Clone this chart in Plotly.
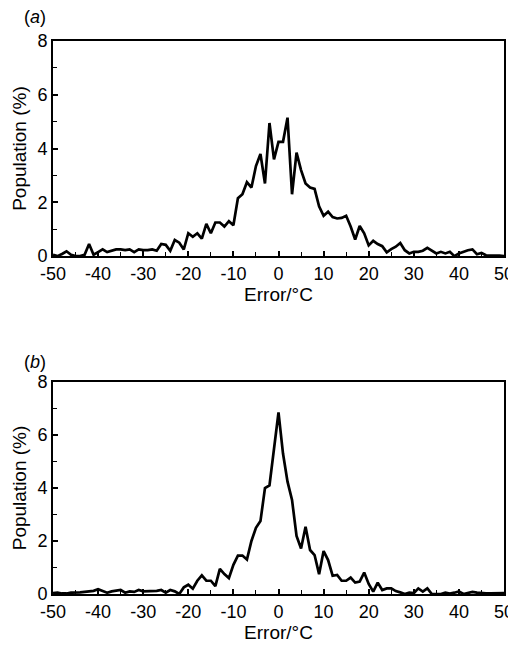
import plotly.graph_objects as go

# Error values (°C), 1-degree bins
error_deg = list(range(-50, 51))

# Panel (a) population (%)
pop_a = [
    0.05, 0.0, 0.08, 0.18, 0.05, 0.0, 0.0, 0.05, 0.45, 0.05,   # -50..-41
    0.15, 0.25, 0.15, 0.2, 0.25, 0.25, 0.22, 0.25, 0.15, 0.25,  # -40..-31
    0.22, 0.22, 0.25, 0.2, 0.45, 0.42, 0.2, 0.6, 0.5, 0.25,     # -30..-21
    0.85, 0.72, 0.85, 0.65, 1.2, 0.85, 1.25, 1.25, 1.1, 1.3,    # -20..-11
    1.15, 2.15, 2.3, 2.75, 2.55, 3.35, 3.8, 2.7, 4.95, 3.6,     # -10..-1
    4.25,                                                        # 0
    4.25, 5.15, 2.3, 3.85, 3.2, 2.7, 2.55, 2.5, 1.85, 1.5,      # 1..10
    1.65, 1.45, 1.4, 1.42, 1.5, 1.1, 0.62, 1.12, 0.85, 0.4,     # 11..20
    0.57, 0.45, 0.37, 0.14, 0.26, 0.35, 0.49, 0.22, 0.1, 0.16,  # 21..30
    0.16, 0.2, 0.31, 0.2, 0.1, 0.16, 0.1, 0.16, 0.0, 0.1,       # 31..40
    0.16, 0.22, 0.25, 0.07, 0.12, 0.03, 0.02, 0.03, 0.02, 0.0,  # 41..50
]

# Panel (b) population (%)
pop_b = [
    0.03, 0.05, 0.02, 0.02, 0.05, 0.05, 0.06, 0.08, 0.1, 0.12,  # -50..-41
    0.18, 0.12, 0.05, 0.1, 0.12, 0.15, 0.05, 0.1, 0.08, 0.15,   # -40..-31
    0.1, 0.1, 0.1, 0.12, 0.15, 0.05, 0.15, 0.1, 0.0, 0.25,      # -30..-21
    0.35, 0.2, 0.5, 0.7, 0.5, 0.5, 0.3, 0.95, 0.75, 0.6,        # -20..-11
    1.1, 1.45, 1.45, 1.3, 2.0, 2.5, 2.75, 4.0, 4.1, 5.5,        # -10..-1
    6.85,                                                        # 0
    5.3, 4.24, 3.55, 2.19, 1.72, 2.54, 1.66, 1.47, 0.75, 1.62,  # 1..10
    1.28, 0.69, 0.72, 0.5, 0.5, 0.62, 0.43, 0.47, 0.81, 0.38,   # 11..20
    0.09, 0.43, 0.15, 0.21, 0.21, 0.11, 0.06, 0.0, 0.05, 0.03,  # 21..30
    0.21, 0.09, 0.21, 0.0, 0.0, 0.0, 0.05, 0.02, 0.05, 0.1,     # 31..40
    0.0, 0.05, 0.08, 0.05, 0.03, 0.02, 0.02, 0.02, 0.02, 0.03,  # 41..50
]

x_ticks = [-50, -40, -30, -20, -10, 0, 10, 20, 30, 40, 50]
y_ticks = [0, 2, 4, 6, 8]
panel_labels = ["(<i>a</i>)", "(<i>b</i>)"]
x_title = "Error/°C"
y_title = "Population (%)"

FONT = "Liberation Sans, Arial, Helvetica, sans-serif"

fig = go.Figure()
fig.add_trace(go.Scatter(x=error_deg, y=pop_a, mode="lines",
                         line=dict(color="black", width=2.7),
                         xaxis="x", yaxis="y", showlegend=False))
fig.add_trace(go.Scatter(x=error_deg, y=pop_b, mode="lines",
                         line=dict(color="black", width=2.7),
                         xaxis="x2", yaxis="y2", showlegend=False))

def xax(anchor):
    return dict(
        anchor=anchor, domain=[0, 1], range=[-50, 50], automargin=False,
        tickmode="array", tickvals=x_ticks, ticktext=[str(v) for v in x_ticks],
        ticks="inside", ticklen=5, tickwidth=1.5, tickcolor="black",
        minor=dict(ticks="inside", dtick=5, ticklen=4, tickwidth=1.2, tickcolor="black"),
        showline=True, linecolor="black", linewidth=2, mirror=True,
        showgrid=False, zeroline=False,
        tickfont=dict(size=18, color="black", family=FONT),
        title=dict(text=x_title, font=dict(size=19, color="black", family=FONT), standoff=3),
    )

def yax(anchor, domain):
    return dict(
        anchor=anchor, domain=domain, range=[0, 8], automargin=False,
        tickmode="array", tickvals=y_ticks, ticktext=[str(v) for v in y_ticks],
        ticks="inside", ticklen=5, tickwidth=1.5, tickcolor="black",
        minor=dict(ticks="inside", dtick=1, ticklen=4, tickwidth=1.2, tickcolor="black"),
        showline=True, linecolor="black", linewidth=2, mirror=True,
        showgrid=False, zeroline=False,
        tickfont=dict(size=18, color="black", family=FONT),
        title=dict(text=y_title, font=dict(size=19, color="black", family=FONT), standoff=6),
    )

# The page body adds an 8 px offset, so the figure is 8 px smaller and margins shifted.
fig.update_layout(
    width=508, height=637,
    margin=dict(l=45, r=12, t=33, b=51),
    paper_bgcolor="white", plot_bgcolor="white",
    xaxis=xax("y"), yaxis=yax("x", [0.611, 1.0]),
    xaxis2=xax("y2"), yaxis2=yax("x2", [0.0, 0.3834]),
    annotations=[
        dict(text=panel_labels[0], x=-0.069, y=1.043, xref="paper", yref="paper",
             xanchor="left", yanchor="middle", showarrow=False,
             font=dict(size=18, color="black", family=FONT)),
        dict(text=panel_labels[1], x=-0.069, y=0.419, xref="paper", yref="paper",
             xanchor="left", yanchor="middle", showarrow=False,
             font=dict(size=18, color="black", family=FONT)),
    ],
)

fig.write_html("out.html")
